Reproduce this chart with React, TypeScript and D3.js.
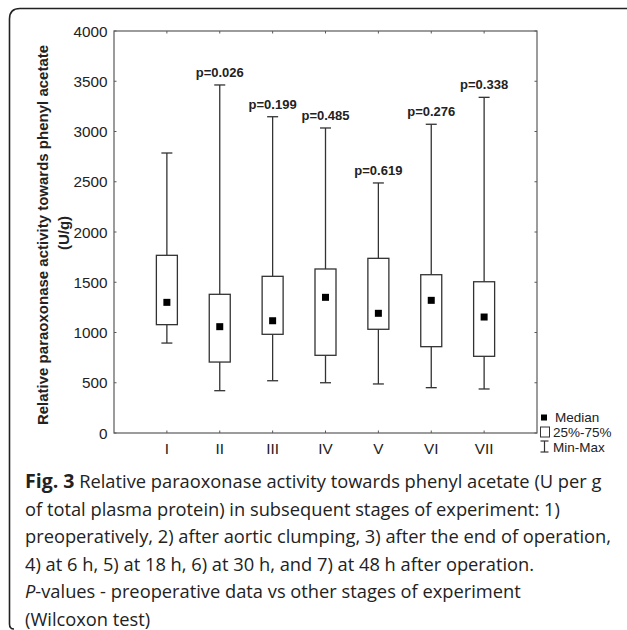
import React from "react";
import * as d3 from "d3";

const categories = ["I", "II", "III", "IV", "V", "VI", "VII"];
const minVals = [895, 421, 520, 500, 488, 451, 438];
const q1Vals = [1078, 706, 982, 773, 1032, 859, 763];
const medianVals = [1300, 1058, 1117, 1350, 1191, 1320, 1154];
const q3Vals = [1768, 1380, 1559, 1632, 1738, 1575, 1505];
const maxVals = [2786, 3463, 3147, 3035, 2488, 3072, 3340];
const pLabels = ["", "p=0.026", "p=0.199", "p=0.485", "p=0.619", "p=0.276", "p=0.338"];
const yTicks = [0, 500, 1000, 1500, 2000, 2500, 3000, 3500, 4000];
const legendItems = ["Median", "25%-75%", "Min-Max"];
const captionLines = [
  " Relative paraoxonase activity towards phenyl acetate (U per g",
  "of total plasma protein) in subsequent stages of experiment: 1)",
  "preoperatively, 2) after aortic clumping, 3) after the end of operation,",
  "4) at 6 h, 5) at 18 h, 6) at 30 h, and 7) at 48 h after operation.",
  "-values - preoperative data vs other stages of experiment",
  "(Wilcoxon test)",
];

const W = 627;
const H = 630;
const plot = { left: 114, right: 537, top: 31, bottom: 433 };

export default function App() {
  const y = d3.scaleLinear().domain([0, 4000]).range([plot.bottom, plot.top]);
  const xs = d3.scaleLinear().domain([0, categories.length + 1]).range([plot.left, plot.right]);
  const x = (i: number) => xs(i + 1);
  const boxW = 21;
  const capW = 11;
  const med = 7;
  const axisCol = "#5a5a5a";
  const lineCol = "#333";
  const font = "'Liberation Sans', Arial, sans-serif";
  const capFont = "'Open Sans', sans-serif";

  return (
    <svg width={W} height={H} style={{ position: "absolute", left: 0, top: 0, background: "#fff" }}>
      {/* frame */}
      <path d={`M ${W} 8.5 L 20 8.5 Q 9.5 8.5 9.5 19 L 9.5 624 Q 9.5 629 14 629`} fill="none" stroke="#222" strokeWidth={1.6} />

      {/* plot frame */}
      <rect x={plot.left} y={plot.top} width={plot.right - plot.left} height={plot.bottom - plot.top} fill="none" stroke={axisCol} strokeWidth={1.2} />

      {/* y ticks */}
      {yTicks.map((t) => (
        <g key={t}>
          <line x1={plot.left} x2={plot.left + 2.5} y1={y(t)} y2={y(t)} stroke={axisCol} strokeWidth={1} />
          <line x1={plot.right} x2={plot.right - 2.5} y1={y(t)} y2={y(t)} stroke={axisCol} strokeWidth={1} />
          <text x={107.5} y={y(t)} dy="0.36em" textAnchor="end" fontFamily={font} fontSize={15.3} fill="#222">
            {t}
          </text>
        </g>
      ))}

      {/* x ticks */}
      {categories.map((c, i) => (
        <g key={c}>
          <line x1={x(i)} x2={x(i)} y1={plot.bottom} y2={plot.bottom - 2.5} stroke={axisCol} strokeWidth={1} />
          <line x1={x(i)} x2={x(i)} y1={plot.top} y2={plot.top + 2.5} stroke={axisCol} strokeWidth={1} />
          <text x={x(i)} y={454} textAnchor="middle" fontFamily={font} fontSize={15.3} fill="#222">
            {c}
          </text>
        </g>
      ))}

      {/* boxes */}
      {categories.map((c, i) => {
        const cx = x(i);
        return (
          <g key={"b" + c}>
            <line x1={cx} x2={cx} y1={y(maxVals[i])} y2={y(q3Vals[i])} stroke={lineCol} strokeWidth={1.3} />
            <line x1={cx} x2={cx} y1={y(q1Vals[i])} y2={y(minVals[i])} stroke={lineCol} strokeWidth={1.3} />
            <line x1={cx - capW / 2} x2={cx + capW / 2} y1={y(maxVals[i])} y2={y(maxVals[i])} stroke={lineCol} strokeWidth={1.3} />
            <line x1={cx - capW / 2} x2={cx + capW / 2} y1={y(minVals[i])} y2={y(minVals[i])} stroke={lineCol} strokeWidth={1.3} />
            <rect x={cx - boxW / 2} y={y(q3Vals[i])} width={boxW} height={y(q1Vals[i]) - y(q3Vals[i])} fill="#fff" stroke={lineCol} strokeWidth={1.3} />
            <rect x={cx - med / 2} y={y(medianVals[i]) - med / 2} width={med} height={med} fill="#000" />
            {pLabels[i] && (
              <text x={cx} y={y(maxVals[i]) - 8} textAnchor="middle" fontFamily={font} fontWeight="bold" fontSize={13} fill="#222">
                {pLabels[i]}
              </text>
            )}
          </g>
        );
      })}

      {/* y-axis title */}
      <text transform="translate(47.5,235) rotate(-90)" textAnchor="middle" fontFamily={font} fontWeight="bold" fontSize={15} fill="#222">
        Relative paraoxonase activity towards phenyl acetate
      </text>
      <text transform="translate(68.5,233) rotate(-90)" textAnchor="middle" fontFamily={font} fontWeight="bold" fontSize={15} fill="#222">
        (U/g)
      </text>

      {/* legend */}
      <g fontFamily={font} fontSize={13.5} fill="#222">
        <rect x={541} y={414.5} width={6} height={6} fill="#000" />
        <text x={555} y={417.5} dy="0.36em">{legendItems[0]}</text>
        <rect x={540.5} y={427} width={9} height={10} fill="#fff" stroke={lineCol} strokeWidth={1} />
        <text x={553} y={432} dy="0.36em">{legendItems[1]}</text>
        <line x1={544.5} x2={544.5} y1={441} y2={452} stroke={lineCol} strokeWidth={1.2} />
        <line x1={540.5} x2={548.5} y1={441} y2={441} stroke={lineCol} strokeWidth={1.2} />
        <line x1={540.5} x2={548.5} y1={452} y2={452} stroke={lineCol} strokeWidth={1.2} />
        <text x={553} y={447} dy="0.36em">{legendItems[2]}</text>
      </g>

      {/* caption */}
      <g fontFamily={capFont} fontSize={18.3} fill="#222">
        {captionLines.map((l, i) => (
          <text key={i} x={25} y={488 + i * 27.5}>
            {i === 0 && <tspan fontWeight="bold" fontSize={19.5}>Fig. 3</tspan>}
            {i === 4 && <tspan fontStyle="italic">P</tspan>}
            {l}
          </text>
        ))}
      </g>
    </svg>
  );
}
